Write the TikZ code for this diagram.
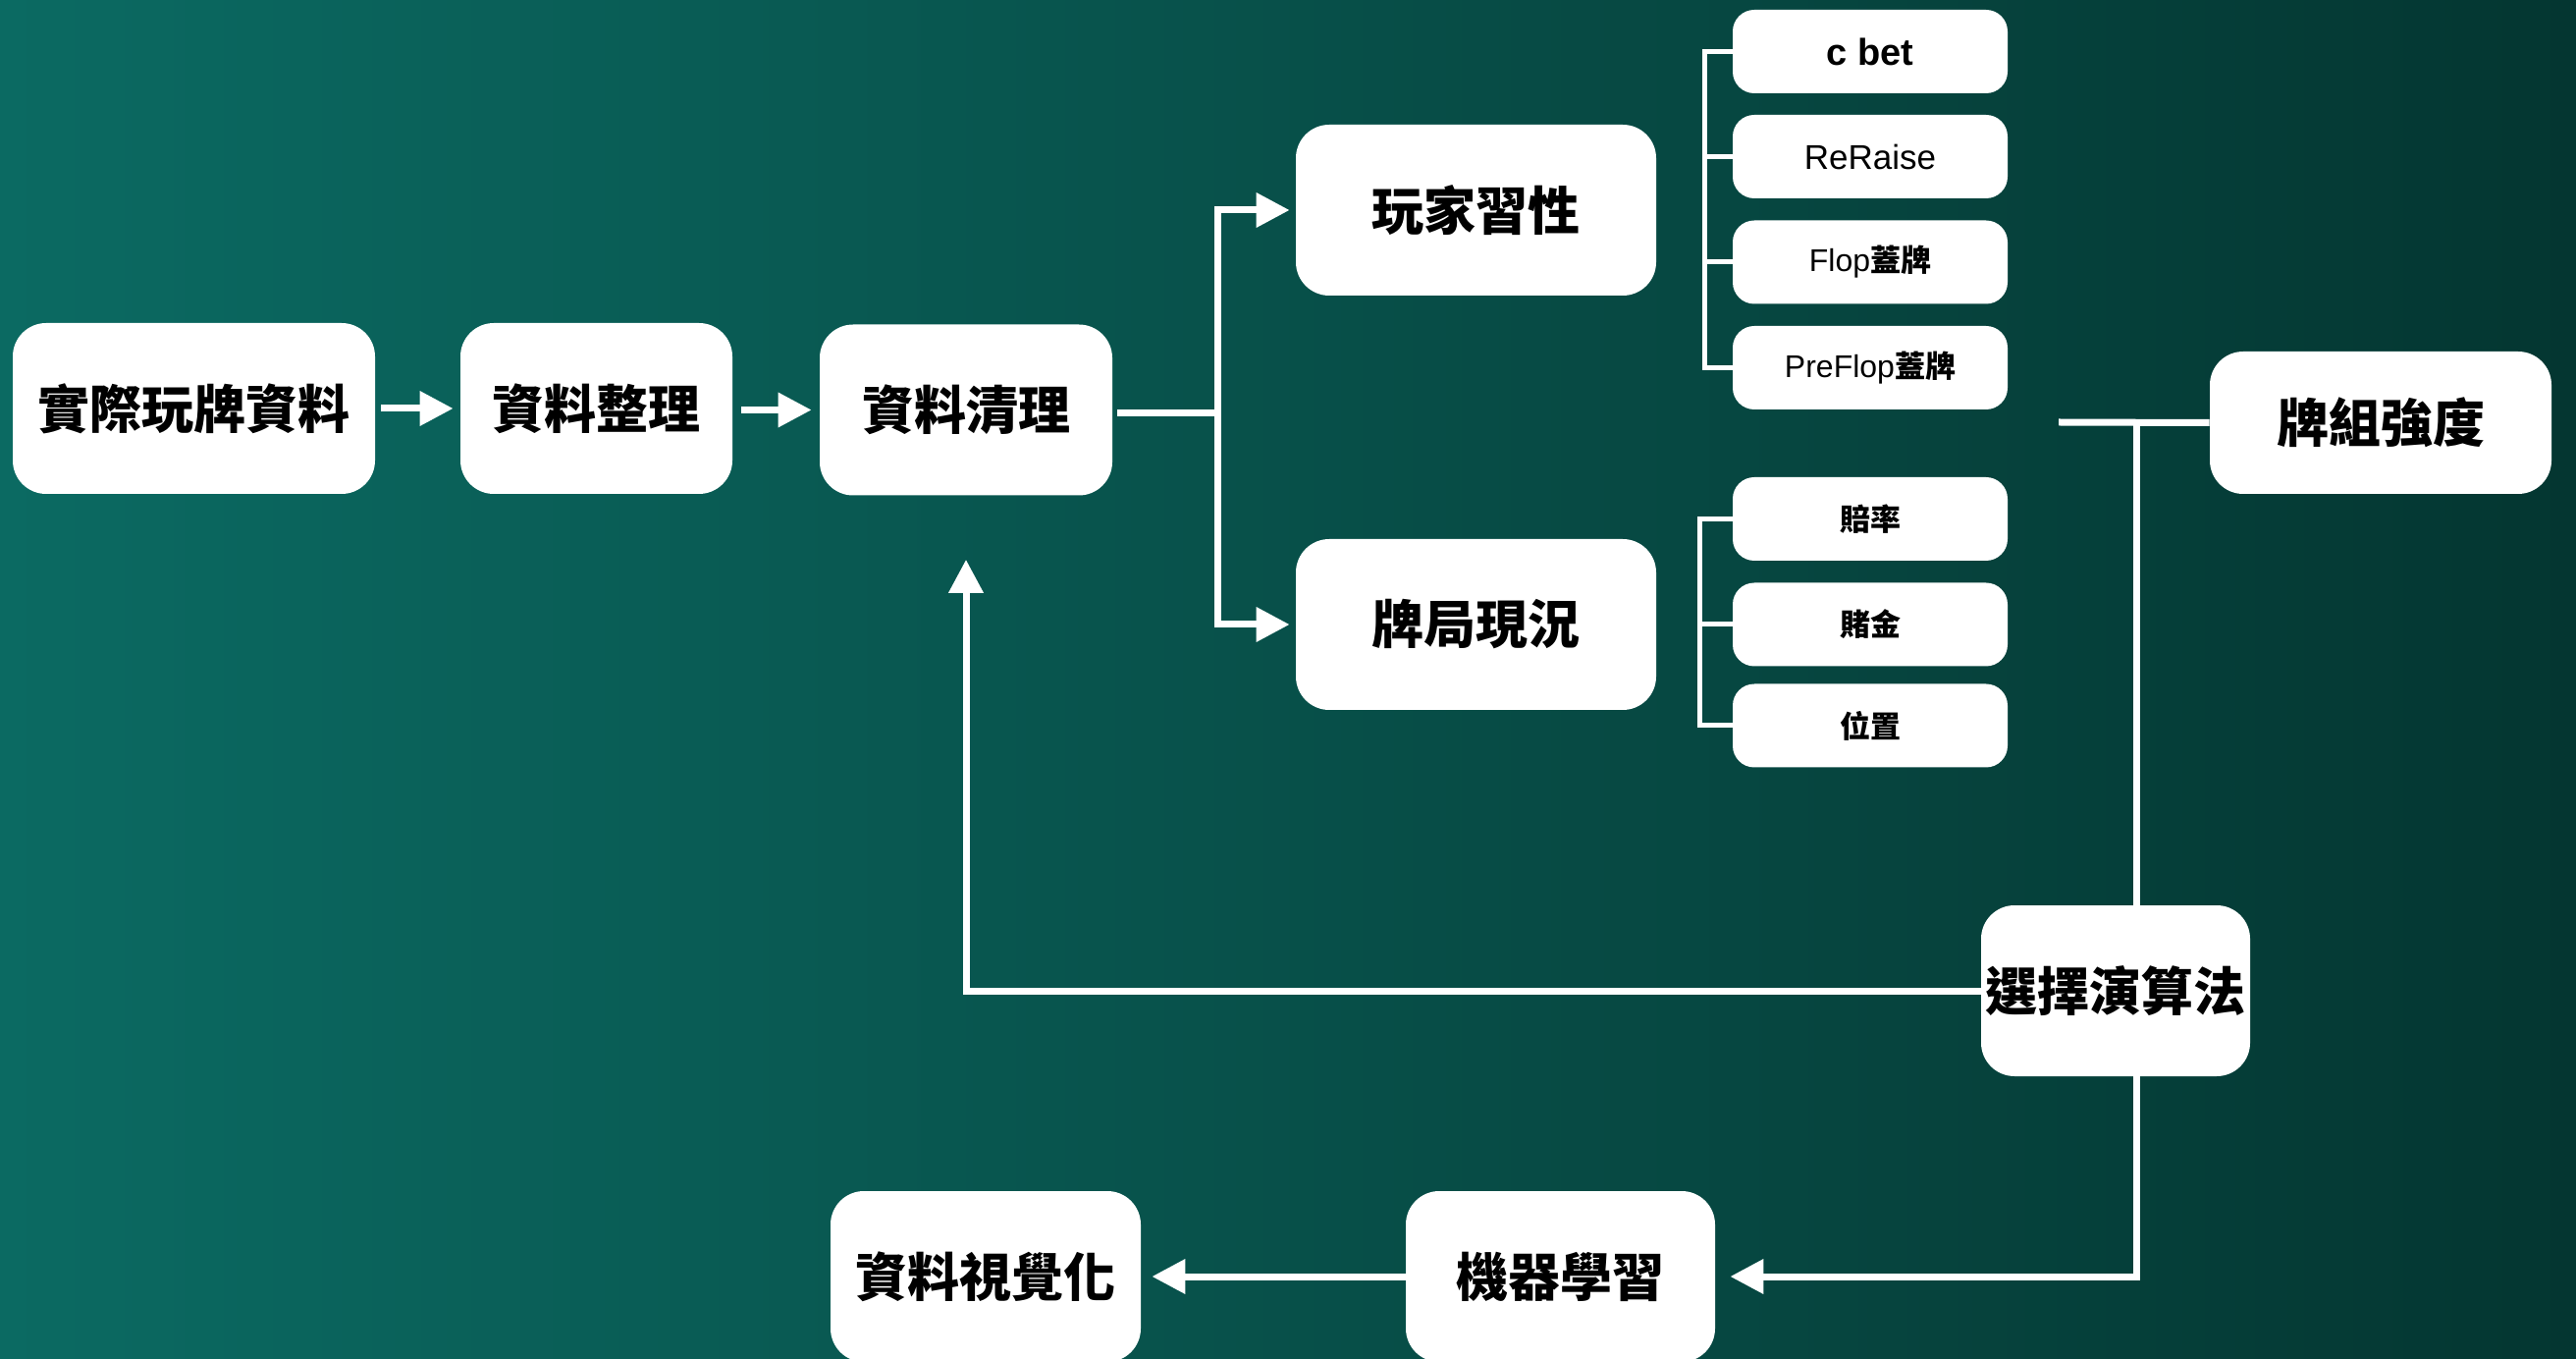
\documentclass[tikz,border=0pt]{standalone}
\usepackage{fontspec}
\setmainfont{Noto Sans CJK TC}
\newfontfamily\lat{Liberation Sans}
\usetikzlibrary{arrows.meta}
\definecolor{bgL}{HTML}{0B6A62}
\definecolor{bgM}{HTML}{085C56}
\definecolor{bgR}{HTML}{043631}
\tikzset{
  big/.style={fill=white, rounded corners=17pt, inner sep=0pt, text=black,
    font=\bfseries\fontsize{26.5}{30}\selectfont, minimum height=87pt},
  small/.style={fill=white, rounded corners=11pt, inner sep=0pt, text=black,
    font=\bfseries\fontsize{15.5}{18}\selectfont, minimum width=140pt, minimum height=42.5pt},
  conn/.style={draw=white, line width=3.5pt},
  thin/.style={draw=white, line width=2.5pt},
  arr/.style={conn, -{Triangle[length=17pt,width=17pt]}}
}
\begin{document}
\begin{tikzpicture}[x=0.5pt,y=-0.5pt]
\useasboundingbox (0,0) rectangle (2624,1384);
\shade[left color=bgL, middle color=bgM, right color=bgR] (0,0) rectangle (2624,1384);

% main row
\node[big, minimum width=184.5pt] (n1) at (197.5,416) {實際玩牌資料};
\node[big, minimum width=138.5pt] (n2) at (607.5,416) {資料整理};
\node[big, minimum width=149pt] (n3) at (984,417.5) {資料清理};

\node[big, minimum width=183.5pt] (p1) at (1503.5,214) {玩家習性};
\node[big, minimum width=183.5pt] (p2) at (1503.5,636) {牌局現況};

% sub items
\node[small] (s1) at (1905,52.5) {\lat\fontsize{19}{22}\selectfont c bet};
\node[small] (s2) at (1905,159.5) {\lat\mdseries\fontsize{17.5}{20}\selectfont ReRaise};
\node[small] (s3) at (1905,267) {{\lat\mdseries\fontsize{16}{18}\selectfont Flop}蓋牌};
\node[small] (s4) at (1905,374.5) {{\lat\mdseries\fontsize{16}{18}\selectfont PreFlop}蓋牌};

\node[small] (t1) at (1905,528.5) {賠率};
\node[small] (t2) at (1905,636) {賭金};
\node[small] (t3) at (1905,739) {位置};

\node[big, minimum width=174pt, minimum height=72.5pt] (k) at (2425,430.5) {牌組強度};
\node[big, minimum width=137pt] (a) at (2155,1009) {選擇演算法};
\node[big, minimum width=157.5pt] (m) at (1589.5,1300) {機器學習};
\node[big, minimum width=158pt] (v) at (1004,1300) {資料視覺化};

% arrows main row
\draw[arr, shorten <=3pt, shorten >=3.5pt] (n1) -- (n2);
\draw[arr, shorten <=4.5pt, shorten >=4pt] (n2.east |- n3.east) -- (n3.west);

\coordinate (j1) at (1240,421);
\draw[conn] ([xshift=2.5pt]n3.east |- j1) -- (j1);
\draw[arr, shorten >=3pt] (j1) |- (p1.west);
\draw[arr, shorten >=3pt] (j1) |- (p2.west);

% brackets
\draw[thin] (s1.west) -- ++(-28,0) coordinate (b1) -- (b1 |- s4.west) -- (s4.west);
\draw[thin] (s2.west) -- (s2.west -| b1);
\draw[thin] (s3.west) -- (s3.west -| b1);

\draw[thin] (t1.west) -- ++(-33,0) coordinate (b2) -- (b2 |- t3.west) -- (t3.west);
\draw[thin] (t2.west) -- (t2.west -| b2);

% strength / algorithm
\coordinate (kl) at (2097,430);
\coordinate (kj) at (2176,430);
\draw[conn] (kl) -- (k.west);
\draw[conn] (kj) -- (kj |- a.north);

\coordinate (bj) at (2176,1300);
\draw[arr, shorten >=7.5pt] (bj |- a.south) -- (bj) -- (m.east);
\draw[arr, shorten >=5.5pt] (m.west) -- (v.east);

% loop back
\draw[arr, shorten >=32.5pt] (a.west) -| (n3.south);
\end{tikzpicture}
\end{document}
